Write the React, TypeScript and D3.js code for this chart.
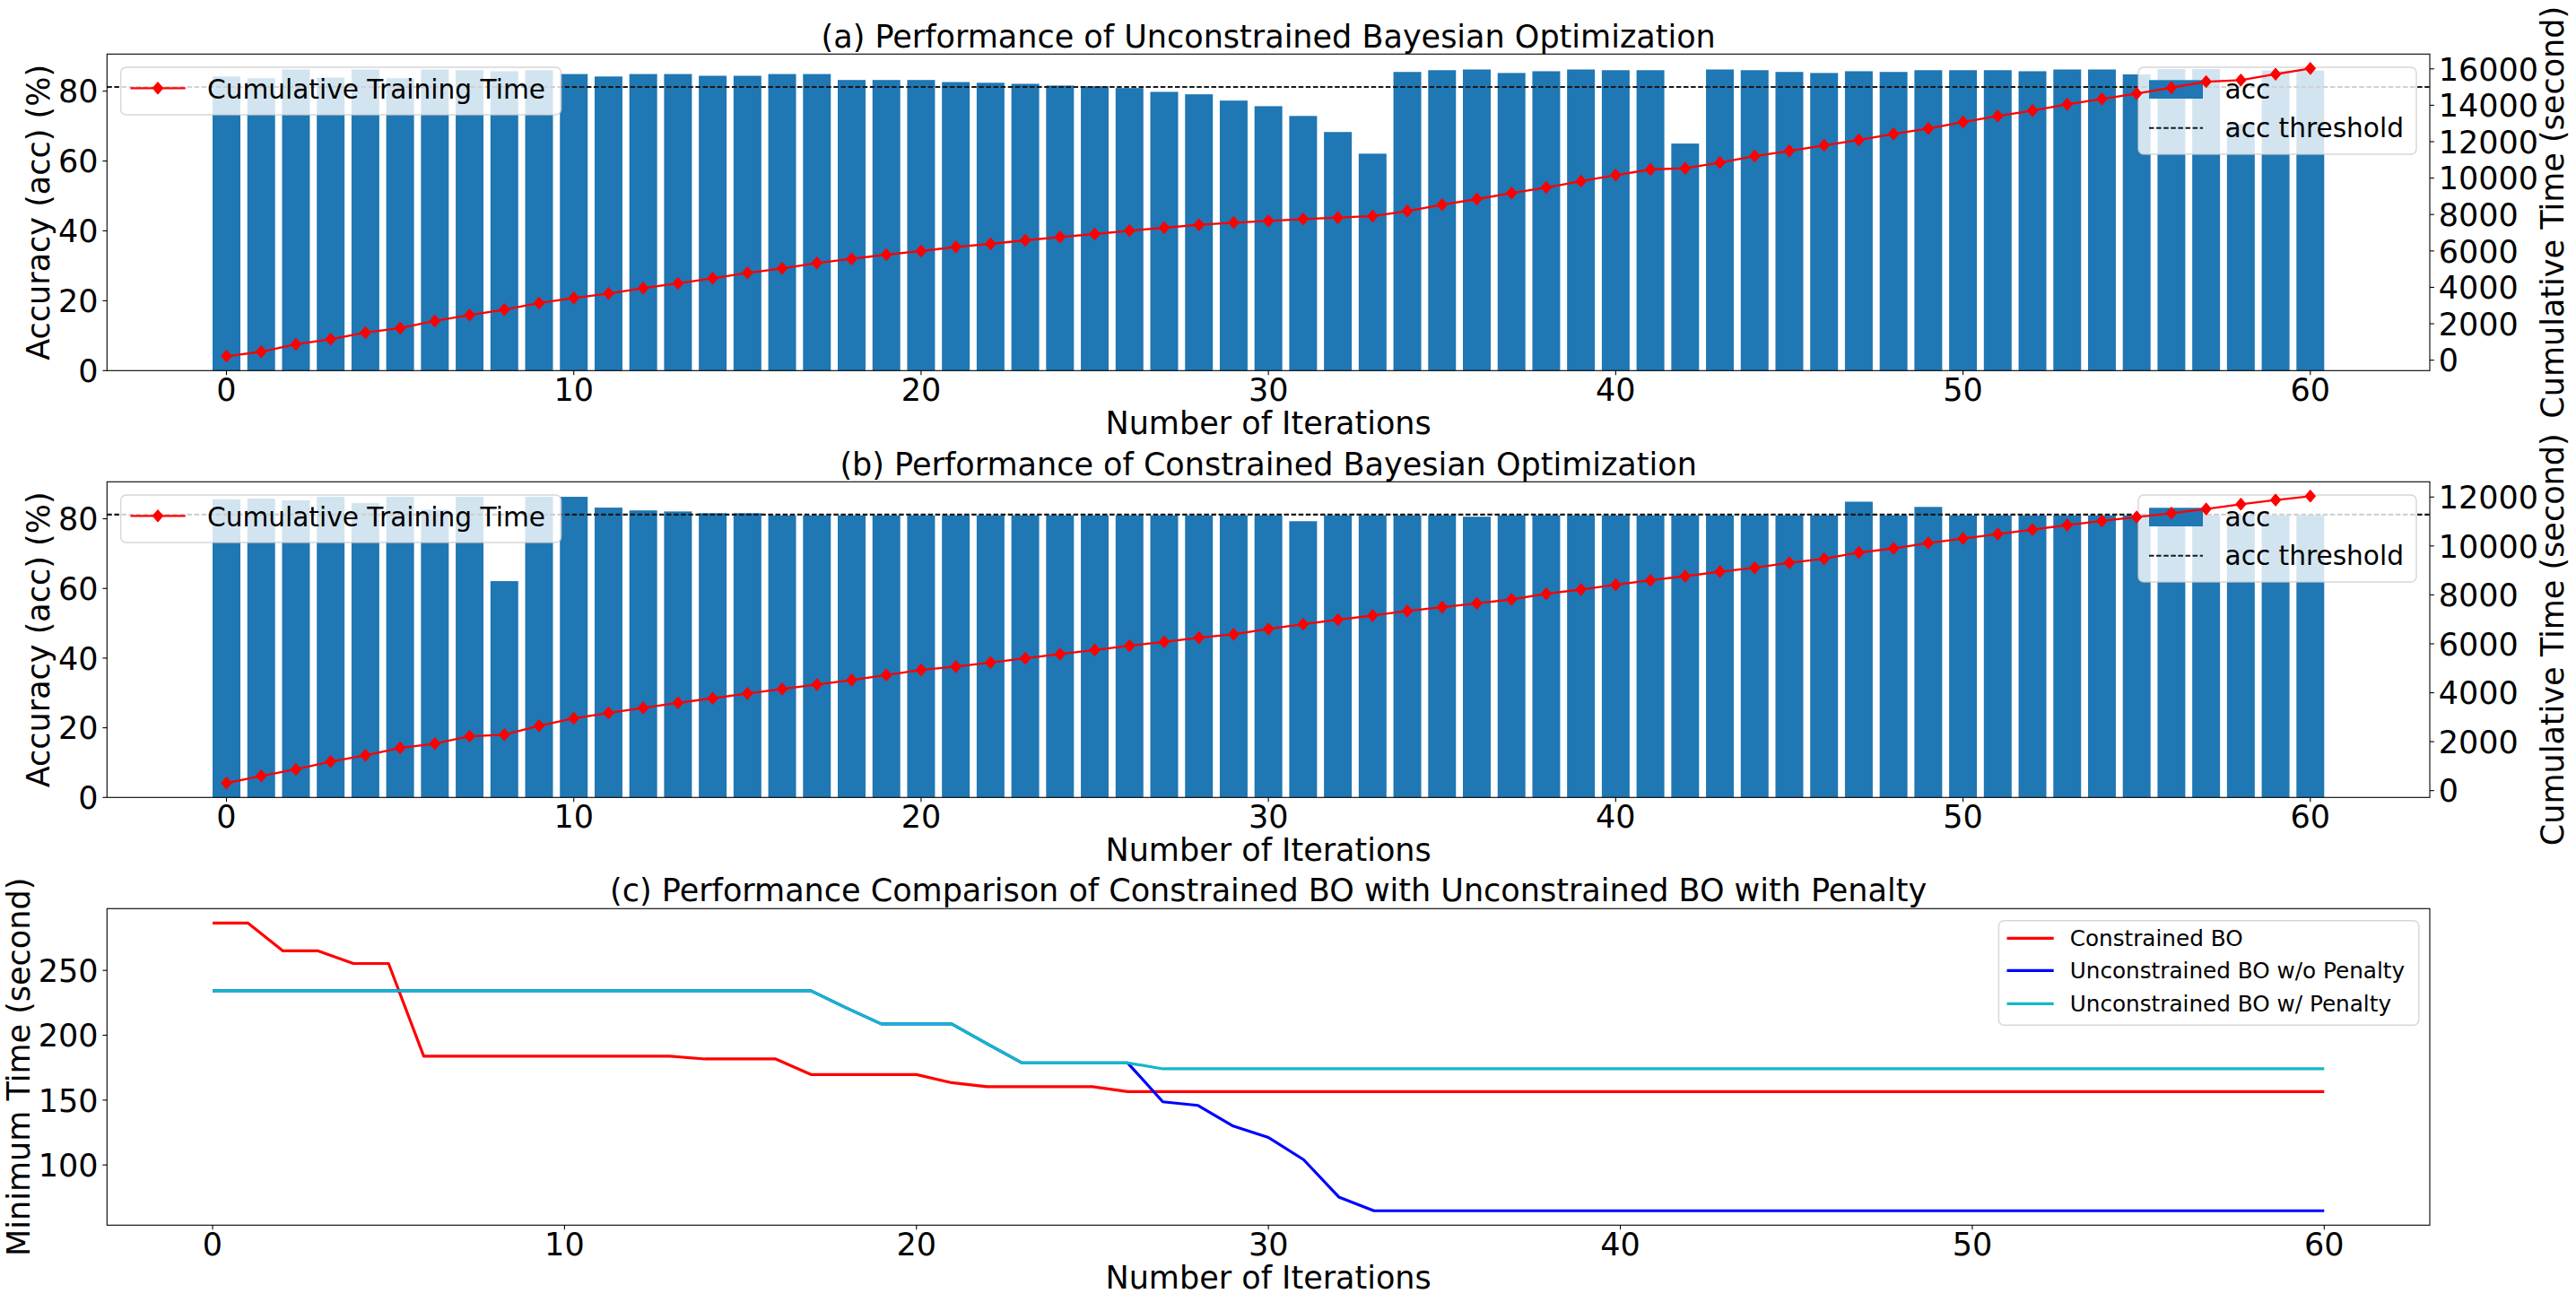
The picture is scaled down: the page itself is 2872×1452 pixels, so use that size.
import React from "react";
import * as d3 from "d3";

// ---------- data ----------
const iterations = d3.range(0, 61);

const accUnconstrained = [
  84.2, 83.7, 86.2, 83.9, 86.2, 83.7, 86.2, 86.0, 85.7, 86.0,
  84.9, 84.2, 84.9, 84.9, 84.4, 84.4, 84.9, 84.9, 83.2, 83.2,
  83.2, 82.6, 82.4, 82.1, 81.6, 81.4, 80.9, 79.8, 79.1, 77.3,
  75.7, 72.9, 68.3, 62.1, 85.5, 86.0, 86.2, 85.2, 85.7, 86.2,
  86.0, 86.0, 65.0, 86.2, 86.0, 85.5, 85.2, 85.7, 85.5, 86.0,
  86.0, 86.0, 85.7, 86.2, 86.2, 84.8, 86.3, 86.3, 70.5, 85.9,
  85.9,
];

const timeUnconstrained = [
  217, 463, 871, 1152, 1512, 1758, 2152, 2481, 2777, 3136,
  3417, 3663, 3959, 4220, 4500, 4796, 5042, 5337, 5564, 5795,
  5992, 6223, 6386, 6583, 6765, 6928, 7110, 7272, 7435, 7553,
  7651, 7750, 7829, 7912, 8193, 8538, 8848, 9178, 9488, 9833,
  10163, 10473, 10537, 10852, 11211, 11492, 11802, 12098, 12427, 12723,
  13082, 13412, 13707, 14052, 14347, 14643, 14968, 15298, 15382, 15707,
  16022,
];

const accConstrained = [
  85.6, 85.8, 85.3, 86.3, 84.5, 86.3, 82.6, 86.3, 62.1, 86.3,
  86.3, 83.2, 82.4, 82.1, 81.6, 81.6, 81.0, 81.0, 81.0, 81.0,
  81.0, 81.0, 81.0, 81.0, 81.0, 81.0, 81.0, 81.0, 81.0, 81.0,
  81.0, 79.3, 81.0, 81.0, 81.0, 81.0, 80.6, 81.0, 81.0, 81.0,
  81.0, 81.0, 81.0, 81.0, 81.0, 81.0, 81.0, 84.9, 81.0, 83.4,
  81.0, 81.0, 81.0, 81.0, 81.0, 81.0, 81.0, 81.0, 81.0, 81.0,
  81.0,
];

const timeConstrained = [
  307, 600, 868, 1186, 1443, 1747, 1919, 2223, 2285, 2651,
  2955, 3175, 3383, 3588, 3772, 3969, 4152, 4335, 4518, 4724,
  4932, 5068, 5236, 5408, 5580, 5749, 5921, 6078, 6250, 6386,
  6606, 6800, 6983, 7155, 7338, 7496, 7653, 7814, 8045, 8217,
  8411, 8594, 8766, 8949, 9107, 9315, 9473, 9729, 9901, 10121,
  10304, 10487, 10670, 10853, 11022, 11183, 11340, 11512, 11706, 11878,
  12036,
];

const accThreshold = 81.2;

const minTimeConstrained = [
  286.5, 286.5, 265.0, 265.0, 255.3, 255.3, 183.8, 183.8, 183.8, 183.8,
  183.8, 183.8, 183.8, 183.8, 181.7, 181.7, 181.7, 169.7, 169.7, 169.7,
  169.7, 163.4, 160.4, 160.4, 160.4, 160.4, 156.5, 156.5, 156.5, 156.5,
  156.5, 156.5, 156.5, 156.5, 156.5, 156.5, 156.5, 156.5, 156.5, 156.5,
  156.5, 156.5, 156.5, 156.5, 156.5, 156.5, 156.5, 156.5, 156.5, 156.5,
  156.5, 156.5, 156.5, 156.5, 156.5, 156.5, 156.5, 156.5, 156.5, 156.5,
  156.5,
];

const minTimeNoPenalty = [
  234.3, 234.3, 234.3, 234.3, 234.3, 234.3, 234.3, 234.3, 234.3, 234.3,
  234.3, 234.3, 234.3, 234.3, 234.3, 234.3, 234.3, 234.3, 221.2, 208.7,
  208.7, 208.7, 193.5, 178.7, 178.7, 178.7, 178.7, 148.7, 145.9, 130.0,
  121.2, 104.1, 75.3, 64.7, 64.7, 64.7, 64.7, 64.7, 64.7, 64.7,
  64.7, 64.7, 64.7, 64.7, 64.7, 64.7, 64.7, 64.7, 64.7, 64.7,
  64.7, 64.7, 64.7, 64.7, 64.7, 64.7, 64.7, 64.7, 64.7, 64.7,
  64.7,
];

const minTimeWithPenalty = [
  234.3, 234.3, 234.3, 234.3, 234.3, 234.3, 234.3, 234.3, 234.3, 234.3,
  234.3, 234.3, 234.3, 234.3, 234.3, 234.3, 234.3, 234.3, 221.2, 208.7,
  208.7, 208.7, 193.5, 178.7, 178.7, 178.7, 178.7, 174.1, 174.1, 174.1,
  174.1, 174.1, 174.1, 174.1, 174.1, 174.1, 174.1, 174.1, 174.1, 174.1,
  174.1, 174.1, 174.1, 174.1, 174.1, 174.1, 174.1, 174.1, 174.1, 174.1,
  174.1, 174.1, 174.1, 174.1, 174.1, 174.1, 174.1, 174.1, 174.1, 174.1,
  174.1,
];

const xTicks = [0, 10, 20, 30, 40, 50, 60];
const accTicks = [0, 20, 40, 60, 80];
const timeTicksA = [0, 2000, 4000, 6000, 8000, 10000, 12000, 14000, 16000];
const timeTicksB = [0, 2000, 4000, 6000, 8000, 10000, 12000];
const minTimeTicks = [100, 150, 200, 250];

const titles = [
  "(a) Performance of Unconstrained Bayesian Optimization",
  "(b) Performance of Constrained Bayesian Optimization",
  "(c) Performance Comparison of Constrained BO with Unconstrained BO with Penalty",
];
const compSeries = [
  { label: "Constrained BO", values: minTimeConstrained, color: "#ff0000" },
  { label: "Unconstrained BO w/o Penalty", values: minTimeNoPenalty, color: "#0000ff" },
  { label: "Unconstrained BO w/ Penalty", values: minTimeWithPenalty, color: "#12b8c8" },
];

// ---------- layout ----------
const W = 2872;
const H = 1452;
const FONT = "DejaVu Sans";
const LEFT = 119.3;
const RIGHT = 2709;
const FS = 35.0;
const LEG_FS = 29.6;
const LEG_FS_C = 24.7;
const TICK = 4.9;
const BAR_BLUE = "#1f77b4";

function diamond(cx: number, cy: number, rx = 5.8, ry = 6.8) {
  return `M${cx},${cy - ry}L${cx + rx},${cy}L${cx},${cy + ry}L${cx - rx},${cy}Z`;
}

function LegendBox({ x, y, w, h }: { x: number; y: number; w: number; h: number }) {
  return (
    <rect x={x} y={y} width={w} height={h} rx={6} ry={6}
      fill="#ffffff" fillOpacity={0.8} stroke="#cccccc" strokeOpacity={0.8} strokeWidth={1.4} />
  );
}

function BarPanel({ top, bottom, title, acc, time, timeTicks }: any) {
  const x = d3.scaleLinear().domain([-0.4 - 0.05 * 60.8, 60.4 + 0.05 * 60.8]).range([LEFT, RIGHT]);
  const yL = d3.scaleLinear().domain([0, (d3.max(acc) as number) * 1.05]).range([bottom, top]);
  const [tmin, tmax] = d3.extent(time) as [number, number];
  const r = tmax - tmin;
  const yR = d3.scaleLinear().domain([tmin - 0.05 * r, tmax + 0.05 * r]).range([bottom, top]);
  const bw = x(0.8) - x(0);
  const line = d3.line<number>().x((_, i) => x(iterations[i])).y((d) => yR(d));
  const midX = (LEFT + RIGHT) / 2;
  const midY = (top + bottom) / 2;
  return (
    <g>
      {acc.map((v: number, i: number) => (
        <rect key={i} x={x(iterations[i] - 0.4)} y={yL(v)} width={bw} height={yL(0) - yL(v)} fill={BAR_BLUE} />
      ))}
      <line x1={LEFT} x2={RIGHT} y1={yL(accThreshold)} y2={yL(accThreshold)}
        stroke="#1a1a1a" strokeWidth={2.1} strokeDasharray="5.5 2.6" />
      {/* right legend (acc) */}
      <LegendBox x={2384} y={top + 14.7} w={310} h={97} />
      <rect x={2396} y={top + 29} width={60} height={20.7} fill={BAR_BLUE} />
      <text x={2480.5} y={top + 49.7} fontSize={LEG_FS} fontFamily={FONT}>acc</text>
      <line x1={2396} x2={2456} y1={top + 82.4} y2={top + 82.4} stroke="#1a1a1a" strokeWidth={2.1} strokeDasharray="5.5 2.6" />
      <text x={2480.5} y={top + 93} fontSize={LEG_FS} fontFamily={FONT}>acc threshold</text>
      {/* cumulative time line */}
      <path d={line(time) as string} fill="none" stroke="#ff0000" strokeWidth={2.3} />
      {time.map((v: number, i: number) => (
        <path key={i} d={diamond(x(iterations[i]), yR(v))} fill="#ff0000" stroke="#ff0000" strokeWidth={1} />
      ))}
      {/* left legend */}
      <LegendBox x={134.6} y={top + 14.7} w={491} h={53} />
      <line x1={145.4} x2={206.7} y1={top + 38} y2={top + 38} stroke="#ff0000" strokeWidth={2.3} />
      <path d={diamond(176, top + 38)} fill="#ff0000" stroke="#ff0000" strokeWidth={1} />
      <text x={231} y={top + 49.4} fontSize={LEG_FS} fontFamily={FONT}>Cumulative Training Time</text>
      {/* frame */}
      <rect x={LEFT} y={top} width={RIGHT - LEFT} height={bottom - top} fill="none" stroke="#000" strokeWidth={1.1} />
      {xTicks.map((t) => (
        <g key={t}>
          <line x1={x(t)} x2={x(t)} y1={bottom} y2={bottom + TICK} stroke="#000" strokeWidth={1.1} />
          <text x={x(t)} y={bottom + 33.6} textAnchor="middle" fontSize={FS} fontFamily={FONT}>{t}</text>
        </g>
      ))}
      {accTicks.map((t) => (
        <g key={t}>
          <line x1={LEFT - TICK} x2={LEFT} y1={yL(t)} y2={yL(t)} stroke="#000" strokeWidth={1.1} />
          <text x={LEFT - 9.8} y={yL(t) + 12.8} textAnchor="end" fontSize={FS} fontFamily={FONT}>{t}</text>
        </g>
      ))}
      {timeTicks.map((t: number) => (
        <g key={t}>
          <line x1={RIGHT} x2={RIGHT + TICK} y1={yR(t)} y2={yR(t)} stroke="#000" strokeWidth={1.1} />
          <text x={RIGHT + 9.8} y={yR(t) + 12.8} textAnchor="start" fontSize={FS} fontFamily={FONT}>{t}</text>
        </g>
      ))}
      <text x={midX} y={top - 7.5} textAnchor="middle" fontSize={FS} fontFamily={FONT}>{title}</text>
      <text x={midX} y={bottom + 70.8} textAnchor="middle" fontSize={FS} fontFamily={FONT}>Number of Iterations</text>
      <text transform={`translate(55,${midY}) rotate(-90)`} textAnchor="middle" fontSize={FS} fontFamily={FONT}>Accuracy (acc) (%)</text>
      <text transform={`translate(2858,${midY}) rotate(-90)`} textAnchor="middle" fontSize={FS} fontFamily={FONT}>Cumulative Time (second)</text>
    </g>
  );
}

function ComparePanel({ top, bottom }: { top: number; bottom: number }) {
  const x = d3.scaleLinear().domain([-3, 63]).range([LEFT, RIGHT]);
  const all = compSeries.flatMap((s) => s.values);
  const [mn, mx] = d3.extent(all) as [number, number];
  const r = mx - mn;
  const y = d3.scaleLinear().domain([mn - 0.05 * r, mx + 0.05 * r]).range([bottom, top]);
  const line = d3.line<number>().x((_, i) => x(iterations[i])).y((d) => y(d));
  const midX = (LEFT + RIGHT) / 2;
  const midY = (top + bottom) / 2;
  const rows = [33, 69, 106];
  return (
    <g>
      {compSeries.map((s) => (
        <path key={s.label} d={line(s.values) as string} fill="none" stroke={s.color} strokeWidth={3.2} strokeLinejoin="round" />
      ))}
      <LegendBox x={2228.4} y={top + 13.4} w={468.4} h={116.6} />
      {compSeries.map((s, k) => (
        <g key={s.label}>
          <line x1={2237.5} x2={2289.7} y1={top + rows[k]} y2={top + rows[k]} stroke={s.color} strokeWidth={3.2} />
          <text x={2307.7} y={top + rows[k] + 9} fontSize={LEG_FS_C} fontFamily={FONT}>{s.label}</text>
        </g>
      ))}
      <rect x={LEFT} y={top} width={RIGHT - LEFT} height={bottom - top} fill="none" stroke="#000" strokeWidth={1.1} />
      {xTicks.map((t) => (
        <g key={t}>
          <line x1={x(t)} x2={x(t)} y1={bottom} y2={bottom + TICK} stroke="#000" strokeWidth={1.1} />
          <text x={x(t)} y={bottom + 33.6} textAnchor="middle" fontSize={FS} fontFamily={FONT}>{t}</text>
        </g>
      ))}
      {minTimeTicks.map((t) => (
        <g key={t}>
          <line x1={LEFT - TICK} x2={LEFT} y1={y(t)} y2={y(t)} stroke="#000" strokeWidth={1.1} />
          <text x={LEFT - 9.8} y={y(t) + 12.8} textAnchor="end" fontSize={FS} fontFamily={FONT}>{t}</text>
        </g>
      ))}
      <text x={midX} y={top - 8} textAnchor="middle" fontSize={FS} fontFamily={FONT}>{titles[2]}</text>
      <text x={midX} y={bottom + 70.8} textAnchor="middle" fontSize={FS} fontFamily={FONT}>Number of Iterations</text>
      <text transform={`translate(33,${midY}) rotate(-90)`} textAnchor="middle" fontSize={FS} fontFamily={FONT}>Minimum Time (second)</text>
    </g>
  );
}

export default function App() {
  return (
    <svg width={W} height={H} viewBox={`0 0 ${W} ${H}`}
      style={{ position: "absolute", left: 0, top: 0, background: "#ffffff", display: "block" }}>
      <rect x={0} y={0} width={W} height={H} fill="#ffffff" />
      <BarPanel top={60.3} bottom={413.3} title={titles[0]} acc={accUnconstrained} time={timeUnconstrained} timeTicks={timeTicksA} />
      <BarPanel top={537.3} bottom={889.3} title={titles[1]} acc={accConstrained} time={timeConstrained} timeTicks={timeTicksB} />
      <ComparePanel top={1013.3} bottom={1366.3} />
    </svg>
  );
}
